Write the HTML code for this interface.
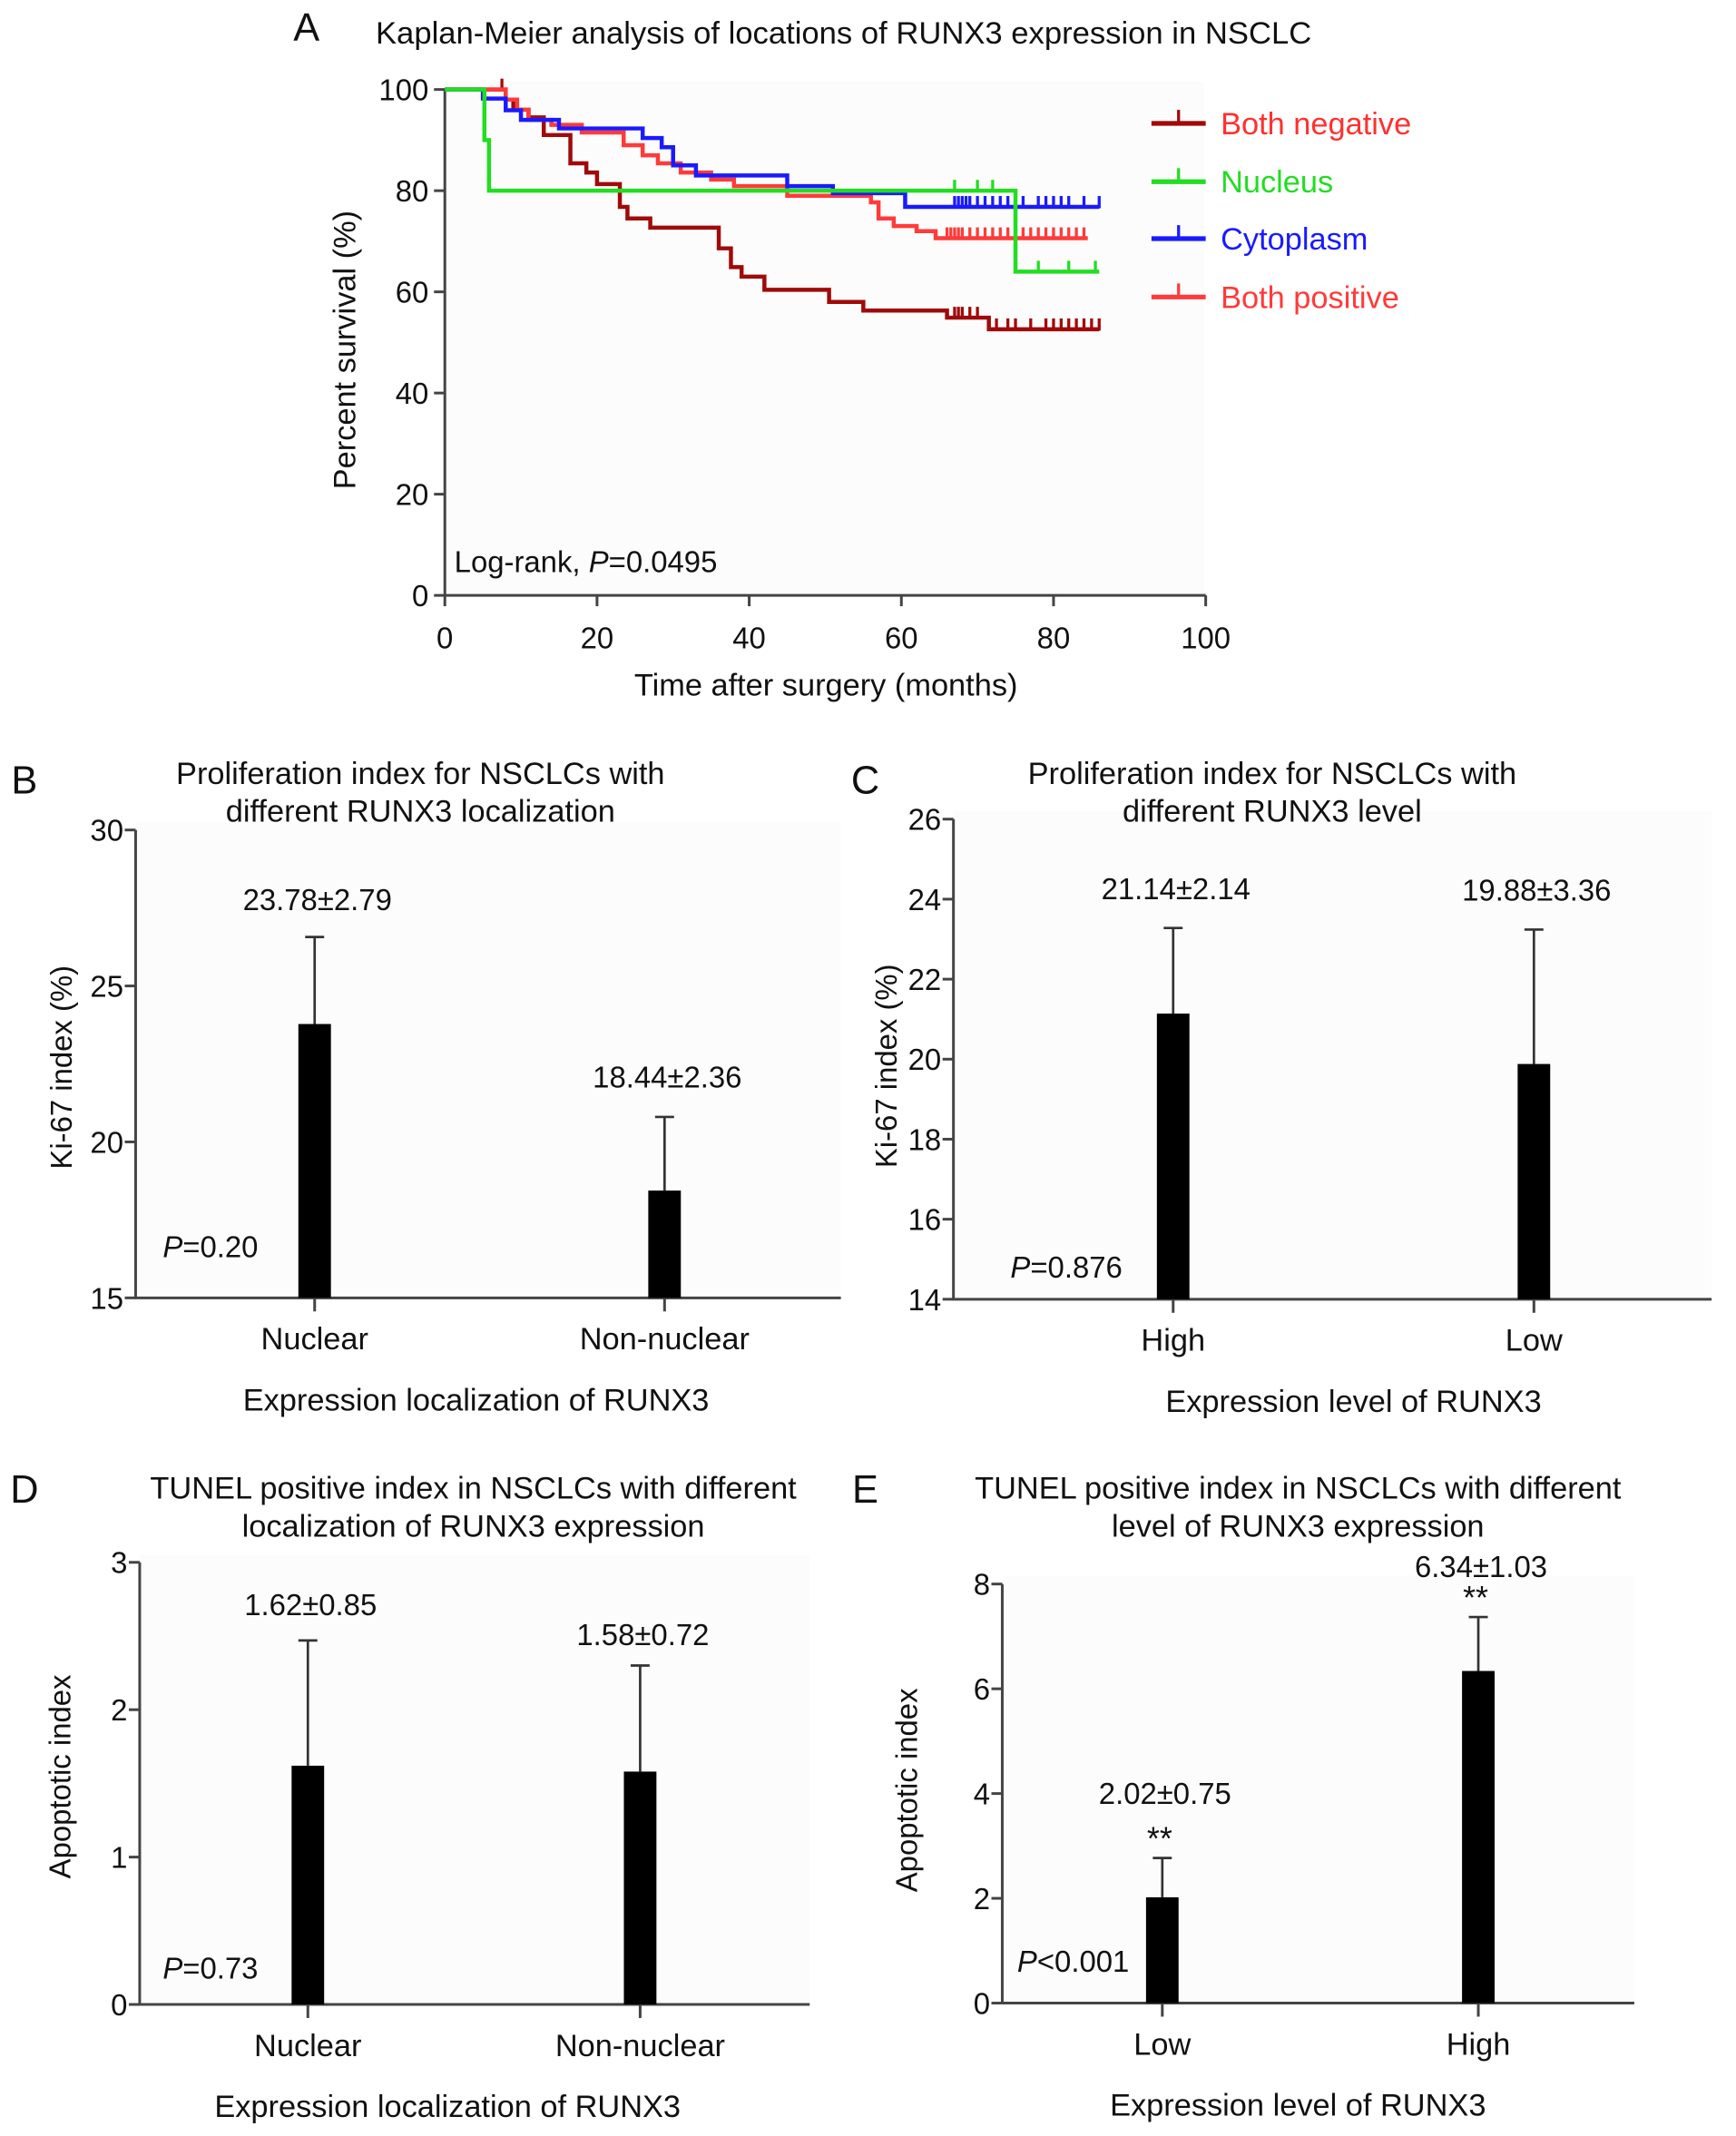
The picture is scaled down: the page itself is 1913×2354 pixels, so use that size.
<!DOCTYPE html>
<html><head><meta charset="utf-8"><style>
html,body{margin:0;padding:0;background:#fff}
svg{display:block}
text{font-family:"Liberation Sans",Arial,sans-serif;fill:#111}
</style></head><body>
<svg id="fig" width="1913" height="2354" viewBox="0 0 1280 1575" preserveAspectRatio="none" xmlns="http://www.w3.org/2000/svg"></svg>
<script>
// ---------- Panel A data (Kaplan-Meier) ----------
const kmNames = ["Both negative","Nucleus","Cytoplasm","Both positive"];
const kmLineColors = ["#a00a0a","#22dd22","#1a1aff","#ff3a3a"];
const kmTextColors = ["#ff3030","#22dd22","#1a1aff","#ff3a3a"];
const negTimes = [8,9,11,13,16.5,18.6,20,23,24,27,36,37.6,39,42,50.5,55,66,71.5];
const negSurv  = [98,96,94.5,91,85.4,83.6,81.3,76.8,74.5,72.7,68.6,64.9,63,60.4,58,56.3,54.9,52.6];
const negCens  = [7.5,67,67.5,68,69,70,72.5,74,75,77,79,80,81,82,83,84,85,86];
const nucTimes = [5.2,5.8,75];
const nucSurv  = [90,80,64];
const nucCens  = [67,70,72,78,82,85.5];
const cytTimes = [5,8,10,15,26,28.5,30,33,45,51,60.5];
const cytSurv  = [98.2,95.9,94,92.3,90.4,88.6,85,83,80.9,79.5,76.8];
const cytCens  = [67,67.5,68,68.5,69,70,71,72,73,74,76,78,79,80,81,82,84,86];
const posTimes = [8,9.5,11,14,18,23.5,26,28,31,35,38,45,56,57,59,62,64.5];
const posSurv  = [98,96,94,93,91.5,89,87,85.4,83.6,82.2,80.9,79,77.7,74.5,73,72,70.6];
const posCens  = [66,66.5,67,67.5,68,69,70,71,72,73,74,75,76,77,78,79,80,81,82,83,84];
const kmEnd = [86,86,86,84.5];
const kmXTicks = [0,20,40,60,80,100];
const kmYTicks = [0,20,40,60,80,100];

// ---------- Bar panels data ----------
const bCats = ["Nuclear","Non-nuclear"];
const bVals = [23.78,18.44];
const bSd   = [2.79,2.36];
const bTicks = [15,20,25,30];
const cCats = ["High","Low"];
const cVals = [21.14,19.88];
const cSd   = [2.14,3.36];
const cTicks = [14,16,18,20,22,24,26];
const dCats = ["Nuclear","Non-nuclear"];
const dVals = [1.62,1.58];
const dSd   = [0.85,0.72];
const dTicks = [0,1,2,3];
const eCats = ["Low","High"];
const eVals = [2.02,6.34];
const eSd   = [0.75,1.03];
const eTicks = [0,2,4,6,8];

const NS="http://www.w3.org/2000/svg";
const svg=document.getElementById('fig');
function mk(tag,attrs,parent){const e=document.createElementNS(NS,tag);for(const k in attrs)e.setAttribute(k,attrs[k]);(parent||svg).appendChild(e);return e;}
function txt(s,x,y,size,anchor,parent,extra){const t=mk('text',Object.assign({x:x,y:y,'font-size':size,'text-anchor':anchor||'middle'},extra||{}),parent);t.textContent=s;return t;}

// ---------- Panel A ----------
const A=mk('g',{});


const ax={x0:328,x1:889,y0:439,y1:66};
const kx=v=>ax.x0+(v/100)*(ax.x1-ax.x0);
const ky=v=>ax.y0-(v/100)*(ax.y0-ax.y1);
let t=txt('A',226,30,29,'middle',A);

t=txt('Kaplan-Meier analysis of locations of RUNX3 expression in NSCLC',622,32,23,'middle',A,{textLength:690,lengthAdjust:'spacingAndGlyphs'});

mk('rect',{x:ax.x0,y:60,width:560,height:378,fill:'#fcfcfc'},A);
const axA=mk('path',{d:`M${ax.x0},${ax.y1} V${ax.y0} H${ax.x1}`,stroke:'#444',fill:'none','stroke-width':2},A);

kmYTicks.forEach(v=>{mk('line',{x1:ax.x0-8,x2:ax.x0,y1:ky(v),y2:ky(v),stroke:'#444','stroke-width':2},A);
 const l=txt(String(v),ax.x0-12,ky(v)+8,22,'end',A);});
kmXTicks.forEach(v=>{mk('line',{x1:kx(v),x2:kx(v),y1:ax.y0,y2:ax.y0+8,stroke:'#444','stroke-width':2},A);
 const l=txt(String(v),kx(v),ax.y0+39,22,'middle',A);});
t=txt('Percent survival (%)',0,0,23,'middle',A,{transform:`translate(262,258) rotate(-90)`});

t=txt('Time after surgery (months)',609,513,23,'middle',A);

t=txt('',335,422,22,'start',A);

t.innerHTML='Log-rank, <tspan font-style="italic">P</tspan>=0.0495';

const kmTimes=[negTimes,nucTimes,cytTimes,posTimes];
const kmSurv=[negSurv,nucSurv,cytSurv,posSurv];
const kmCens=[negCens,nucCens,cytCens,posCens];
const kmKeys=['both-negative','nucleus','cytoplasm','both-positive'];
function survAt(times,surv,tm){let s=100;for(let i=0;i<times.length;i++){if(times[i]<=tm)s=surv[i];}return s;}
[0,3,2,1].forEach(si=>{
 const times=kmTimes[si],surv=kmSurv[si];
 let d=`M${kx(0)},${ky(100)}`;
 for(let i=0;i<times.length;i++){d+=` H${kx(times[i])} V${ky(surv[i])}`;}
 d+=` H${kx(kmEnd[si])}`;
 const p=mk('path',{d:d,fill:'none',stroke:kmLineColors[si],'stroke-width':3},A);
 
 
 kmCens[si].forEach(c=>{const s=survAt(times,surv,c);
  const m=mk('line',{x1:kx(c),x2:kx(c),y1:ky(s)+1,y2:ky(s)-8,stroke:kmLineColors[si],'stroke-width':2.2},A);
  
  });
});
kmNames.forEach((n,i)=>{
 const y=[91,134,176,219][i];
 const g=mk('g',{},A);
 
 
 mk('line',{x1:849,x2:889,y1:y,y2:y,stroke:kmLineColors[i],'stroke-width':3.5},g);
 mk('line',{x1:869,x2:869,y1:y,y2:y-10,stroke:kmLineColors[i],'stroke-width':2.2},g);
 txt(n,900,y+8,23,'start',g,{style:'fill:'+kmTextColors[i]});
});

// ---------- Bar panels ----------
function barPanel(cfg){
 const g=mk('g',{});
 
 
 const ymin=cfg.ticks[0],ymax=cfg.ticks[cfg.ticks.length-1];
 const sy=v=>cfg.y0-(v-ymin)/(ymax-ymin)*(cfg.y0-cfg.y1);
 mk('rect',{x:cfg.ax,y:cfg.y1-6,width:cfg.xend-cfg.ax,height:cfg.y0-cfg.y1+6,fill:'#fcfcfc'},g);
 let l=txt(cfg.letter,cfg.lx,cfg.ly,29,'middle',g);
 
 cfg.title.forEach((s,i)=>{const tt=txt(s,cfg.tx,cfg.ty+i*28,23,'middle',g);
  });
 const a=mk('path',{d:`M${cfg.ax},${cfg.y1} V${cfg.y0} H${cfg.xend}`,stroke:'#444',fill:'none','stroke-width':2},g);
 
 cfg.ticks.forEach(v=>{mk('line',{x1:cfg.ax-8,x2:cfg.ax,y1:sy(v),y2:sy(v),stroke:'#444','stroke-width':2},g);
  const tl=txt(String(v),cfg.ax-9,sy(v)+8,22,'end',g);
  });
 cfg.cats.forEach((c,i)=>{
  const cx=cfg.cx[i],v=cfg.vals[i],sd=cfg.sd[i],w=24;
  mk('line',{x1:cx,x2:cx,y1:cfg.y0,y2:cfg.y0+10,stroke:'#444','stroke-width':2},g);
  const er=mk('path',{d:`M${cx},${sy(v)} V${sy(v+sd)} M${cx-7},${sy(v+sd)} H${cx+7}`,stroke:'#333','stroke-width':1.8,fill:'none'},g);
  
  
  const b=mk('rect',{x:cx-w/2,y:sy(v),width:w,height:cfg.y0-sy(v),fill:'#000'},g);
  
  
  const vl=txt(v.toFixed(2)+'±'+sd.toFixed(2),cx+2,cfg.valY[i],22,'middle',g);
  
  
  if(cfg.stars){const st=txt('**',cx-2,sy(v+sd)-6,24,'middle',g);
   }
  const cl=txt(c,cx,cfg.y0+38,23,'middle',g);
  
 });
 const xt=txt(cfg.xtitle,cfg.xtx,cfg.y0+83,23,'middle',g);
 
 const yt=txt(cfg.ytitle,0,0,22,'middle',g,{transform:`translate(${cfg.ytx},${cfg.yty}) rotate(-90)`});
 
 const pv=txt('',cfg.px,cfg.py,22,'start',g);
 
 pv.innerHTML='<tspan font-style="italic">P</tspan>'+cfg.ptext;
}
barPanel({key:'panel-b-ki67-localization',letter:'B',lx:18,ly:585,title:['Proliferation index for NSCLCs with','different RUNX3 localization'],tx:310,ty:578,
 ax:100,xend:620,y0:957,y1:612,ticks:bTicks,cats:bCats,vals:bVals,sd:bSd,cx:[232,490],valY:[671,802],
 xtitle:'Expression localization of RUNX3',xtx:351,ytitle:'Ki-67 index (%)',ytx:53,yty:787,px:120,py:927,ptext:'=0.20'});
barPanel({key:'panel-c-ki67-level',letter:'C',lx:638,ly:585,title:['Proliferation index for NSCLCs with','different RUNX3 level'],tx:938,ty:578,
 ax:703,xend:1262,y0:958,y1:604,ticks:cTicks,cats:cCats,vals:cVals,sd:cSd,cx:[865,1131],valY:[663,664],
 xtitle:'Expression level of RUNX3',xtx:998,ytitle:'Ki-67 index (%)',ytx:661,yty:786,px:745,py:942,ptext:'=0.876'});
barPanel({key:'panel-d-tunel-localization',letter:'D',lx:18,ly:1108,title:['TUNEL positive index in NSCLCs with different','localization of RUNX3 expression'],tx:349,ty:1105,
 ax:103,xend:597,y0:1478,y1:1152,ticks:dTicks,cats:dCats,vals:dVals,sd:dSd,cx:[227,472],valY:[1191,1213],
 xtitle:'Expression localization of RUNX3',xtx:330,ytitle:'Apoptotic index',ytx:52,yty:1310,px:120,py:1459,ptext:'=0.73'});
barPanel({key:'panel-e-tunel-level',letter:'E',lx:638,ly:1108,title:['TUNEL positive index in NSCLCs with different','level of RUNX3 expression'],tx:957,ty:1105,
 ax:739,xend:1205,y0:1477,y1:1168,ticks:eTicks,cats:eCats,vals:eVals,sd:eSd,cx:[857,1090],valY:[1330,1163],stars:true,
 xtitle:'Expression level of RUNX3',xtx:957,ytitle:'Apoptotic index',ytx:676,yty:1320,px:750,py:1454,ptext:'<0.001'});
</script>
</body></html>
